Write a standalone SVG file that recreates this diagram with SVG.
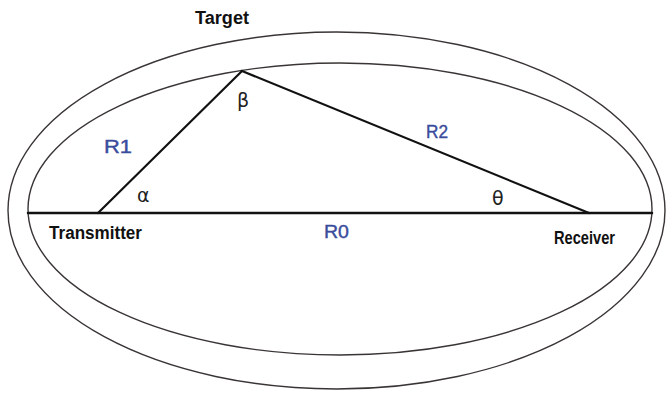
<svg xmlns="http://www.w3.org/2000/svg" width="672" height="395" viewBox="0 0 672 395">
<style>
.ell{fill:none;stroke:#3a3535;stroke-width:1.4}
.edge{fill:none;stroke:#111;stroke-width:2.2;stroke-linecap:round}
.lbl{font-family:"Liberation Sans",Arial,sans-serif;font-weight:bold;font-size:18px;fill:#111}
.blue{font-family:"Liberation Sans",Arial,sans-serif;font-size:18px;fill:#3a4c9c;stroke:#3a4c9c;stroke-width:0.4}
.greek{font-family:"DejaVu Sans","Liberation Sans",sans-serif;font-size:19px;fill:#222}
</style>
<rect width="672" height="395" fill="#ffffff"/>
<g id="target">
<ellipse class="ell" cx="336.5" cy="210.5" rx="328.5" ry="178.5"/>
<ellipse class="ell" cx="340" cy="209" rx="312" ry="146"/>
<text class="lbl" x="195" y="24" textLength="54" lengthAdjust="spacingAndGlyphs">Target</text>
</g>
<g id="connectors">
<line class="edge" x1="28" y1="213" x2="652" y2="213" style="stroke-width:2.5"/>
<line class="edge" x1="98" y1="213" x2="242" y2="71"/>
<line class="edge" x1="242" y1="71" x2="589" y2="213"/>
</g>
<g id="transmitter">
<text class="lbl" x="49" y="239" textLength="93" lengthAdjust="spacingAndGlyphs">Transmitter</text>
</g>
<g id="receiver">
<text class="lbl" x="554" y="244" textLength="61" lengthAdjust="spacingAndGlyphs">Receiver</text>
</g>
<g id="labels">
<text class="blue" x="104" y="153" textLength="28" lengthAdjust="spacingAndGlyphs">R1</text>
<text class="blue" x="426" y="138" textLength="22" lengthAdjust="spacingAndGlyphs">R2</text>
<text class="blue" x="324" y="238" textLength="25" lengthAdjust="spacingAndGlyphs">R0</text>
<text class="greek" x="237" y="107">β</text>
<text class="greek" x="137" y="202">α</text>
<text class="greek" x="492" y="205">θ</text>
</g>
</svg>
